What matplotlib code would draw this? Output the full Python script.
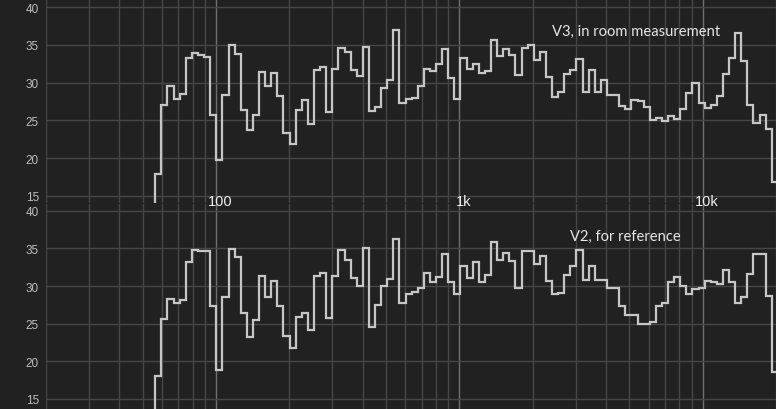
import numpy as np
import matplotlib
matplotlib.use('Agg')
import matplotlib.pyplot as plt
from matplotlib.ticker import FixedLocator, NullFormatter

# 1/12 octave bands, first band edge in Hz
band_start = 56.25
per_octave = 12

# V3, in room measurement (dB per band)
v3_start = 14.2
v3 = [17.9, 27.0, 29.5, 27.8, 28.5, 33.2, 33.9, 33.6, 33.4, 25.75,
      19.7, 28.3, 35.0, 33.8, 26.4, 23.7, 25.7, 31.4, 29.5, 31.3,
      28.2, 23.3, 21.9, 26.4, 27.7, 24.5, 31.7, 32.1, 26.1, 31.8,
      34.6, 34.0, 31.7, 30.9, 34.7, 26.2, 26.8, 29.3, 30.4, 36.9,
      27.3, 27.8, 27.9, 29.6, 31.8, 31.5, 32.5, 34.4, 30.6, 27.8,
      33.2, 31.8, 32.4, 31.3, 31.5, 35.6, 33.5, 34.4, 33.6, 31.0,
      34.6, 35.0, 33.0, 34.1, 30.7, 28.1, 28.7, 31.2, 31.7, 33.1,
      28.7, 31.7, 28.7, 30.4, 28.3, 28.3, 26.9, 26.5, 27.7, 27.5,
      26.8, 25.0, 25.3, 24.9, 25.6, 25.2, 26.5, 28.6, 30.0, 27.3,
      26.6, 27.0, 28.2, 31.2, 33.3, 36.5, 32.8, 27.0, 24.6, 25.7,
      23.9, 16.9]

# V2, for reference
v2_start = 12.0
v2 = [18.05, 25.6, 28.3, 27.8, 28.1, 33.2, 34.8, 34.6, 34.7, 27.3,
      18.8, 28.6, 34.9, 33.8, 26.4, 23.3, 25.5, 31.3, 28.6, 30.7,
      27.4, 23.4, 21.8, 25.9, 26.4, 24.2, 31.4, 31.7, 25.7, 31.3,
      34.8, 33.4, 31.1, 30.0, 35.0, 24.6, 27.5, 30.0, 30.9, 36.2,
      27.7, 29.0, 29.2, 29.8, 31.8, 30.5, 31.2, 34.2, 30.5, 28.9,
      32.7, 31.1, 33.2, 30.6, 31.5, 35.8, 33.4, 34.4, 33.3, 29.8,
      34.6, 34.6, 32.9, 34.0, 30.7, 29.0, 29.1, 31.5, 32.7, 34.8,
      30.8, 32.7, 30.8, 30.8, 29.7, 29.7, 27.3, 26.2, 26.1, 24.9,
      25.0, 25.2, 27.4, 27.7, 30.5, 31.2, 30.0, 28.9, 29.6, 29.7,
      30.7, 30.5, 30.3, 32.1, 30.6, 27.8, 28.5, 31.6, 34.3, 34.2,
      28.7, 18.6]

y_ticks = [15, 20, 25, 30, 35, 40]
x_major = [100, 1000, 10000]
x_major_labels = ['100', '1k', '10k']
x_minor = [m * d for d in (10, 100, 1000) for m in range(2, 10)] + [20000]

bg = '#212121'
line_col = '#c6c6c6'

fig = plt.figure(figsize=(7.76, 4.10), dpi=100, facecolor=bg)
ax_top = fig.add_axes([46 / 776, 1 - 204 / 410, 1 - 46 / 776, 204 / 410])
ax_bot = fig.add_axes([46 / 776, 0, 1 - 46 / 776, 205 / 410])


def draw_panel(ax, start, values, ylim, label, label_x, label_y):
    edges = band_start * 2 ** (np.arange(len(values) + 1) / per_octave)
    x = np.r_[edges[0], edges]
    y = np.r_[start, values, values[-1]]
    ax.step(x, y, where='post', color=line_col, linewidth=1.6,
            solid_joinstyle='miter', zorder=3)

    ax.set_facecolor(bg)
    ax.set_xscale('log')
    ax.set_xlim(20, 20000)
    ax.set_ylim(*ylim)
    for s in ax.spines.values():
        s.set_visible(False)

    ax.xaxis.set_major_locator(FixedLocator(x_major))
    ax.xaxis.set_minor_locator(FixedLocator(x_minor))
    ax.xaxis.set_major_formatter(NullFormatter())
    ax.xaxis.set_minor_formatter(NullFormatter())
    ax.set_yticks(y_ticks)
    ax.tick_params(axis='both', which='both', length=0)
    ax.tick_params(axis='y', colors='#bdbdbd', labelsize=8.5, pad=5)
    for t in ax.get_yticklabels():
        t.set_fontfamily('Liberation Sans')

    ax.grid(True, which='minor', axis='x', color='#464646', linewidth=1)
    ax.grid(True, which='major', axis='x', color='#6e6e6e', linewidth=1)
    ax.grid(True, which='major', axis='y', color='#464646', linewidth=1)
    ax.set_axisbelow(True)

    ax.text(label_x, label_y, label, transform=ax.transAxes, ha='center',
            va='center', color='#e6e6e6', fontsize=10.6, family='Lato')


draw_panel(ax_top, v3_start, v3, (14.07, 41.06), 'V3, in room measurement', 0.808, 0.845)
draw_panel(ax_bot, v2_start, v2, (13.67, 40.9), 'V2, for reference', 0.794, 0.845)

# frequency labels sit between the two panels, above both axes
for f, lab in zip(x_major, x_major_labels):
    fig.text(f * 1.04, 14.3, lab, transform=ax_top.transData, ha='center',
             va='center', color='#eeeeee', fontsize=10.5,
             family='Liberation Sans', zorder=5)

fig.savefig('out.png', dpi=100, facecolor=bg)
plt.close(fig)
